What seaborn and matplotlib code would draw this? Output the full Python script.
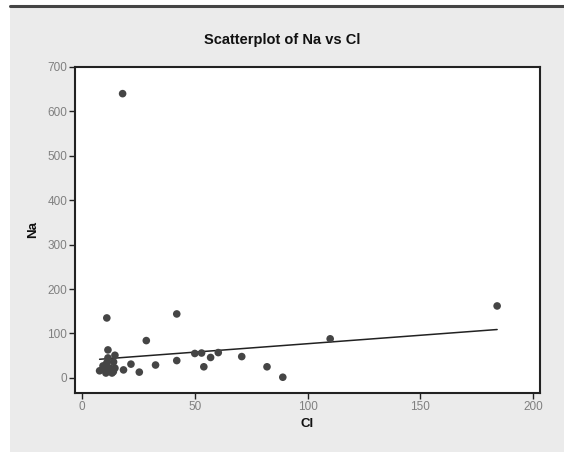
import matplotlib
matplotlib.use("Agg")
import matplotlib.pyplot as plt
import seaborn as sns
import numpy as np
import pandas as pd
from matplotlib.patches import Rectangle
from matplotlib.lines import Line2D

# ---- data ----
cl = [18, 11, 42, 28.5, 184, 110, 70.8, 82, 89, 54, 42, 32.6, 25.4, 18.4, 21.7,
      7.8, 11.5, 14.6, 50, 53, 57, 60.4,
      11, 12.4, 10.6, 13.3, 14.6, 9.3, 11.5, 14, 12, 10, 13.9]
na = [640, 135, 144, 84, 162, 88, 48, 25, 1.5, 25, 39, 29, 13, 18, 31,
      16, 63, 51, 55, 56, 46, 57,
      34, 22, 11, 11, 22, 27, 45, 36, 17, 20, 14]
fit_intercept = 39.0
fit_slope = 0.38
x_ticks = [0, 50, 100, 150, 200]
y_ticks = [0, 100, 200, 300, 400, 500, 600, 700]
title = "Scatterplot of Na vs Cl"
x_label = "Cl"
y_label = "Na"

df = pd.DataFrame({"Cl": cl, "Na": na})
xs = np.linspace(min(cl), max(cl), 50)
fit_df = pd.DataFrame({"Cl": xs, "Na": fit_intercept + fit_slope * xs})

sns.set_theme(style="white")
plt.rcParams['font.family'] = ['Liberation Sans Narrow', 'Liberation Sans', 'DejaVu Sans']

W, H = 564, 454
fig = plt.figure(figsize=(W / 100, H / 100), dpi=100, facecolor="white")
# gray panel and top rule
fig.add_artist(Rectangle((10 / W, 2 / H), 1 - 10 / W, 1 - 9 / H,
                         transform=fig.transFigure, facecolor="#ebebeb",
                         edgecolor="none", zorder=-10))
fig.add_artist(Line2D([10 / W, 1], [1 - 6 / H, 1 - 6 / H],
                      transform=fig.transFigure, color="#444444", lw=2.2))

ax = fig.add_axes([75 / W, 1 - 393 / H, (540 - 75) / W, (393 - 67) / H])
ax.set_facecolor("white")

sns.scatterplot(data=df, x="Cl", y="Na", ax=ax, color="#454545", s=30,
                edgecolor="none", linewidth=0, zorder=3)
sns.lineplot(data=fit_df, x="Cl", y="Na", ax=ax, color="#222222", lw=1.1,
             zorder=2)

ax.set_xlim(-3.1, 203)
ax.set_ylim(-34, 700)
ax.set_xticks(x_ticks)
ax.set_yticks(y_ticks)
ax.tick_params(axis="both", which="major", direction="out", length=4,
               width=1, color="#222222", labelsize=8.5, labelcolor="#808080",
               pad=1.5, bottom=True, left=True, top=False, right=False)
for sp in ax.spines.values():
    sp.set_color("#222222")
    sp.set_linewidth(1.5)

ax.set_xlabel(x_label, fontsize=9.5, fontweight="bold", color="#111111", labelpad=4)
ax.set_ylabel(y_label, fontsize=9.5, fontweight="bold", color="#111111", labelpad=6)

fig.text(0.5, 1 - 40 / H, title, ha="center", va="center", fontsize=10.5,
         fontweight="bold", color="#111111")

fig.savefig("out.png", dpi=100, facecolor=fig.get_facecolor())
